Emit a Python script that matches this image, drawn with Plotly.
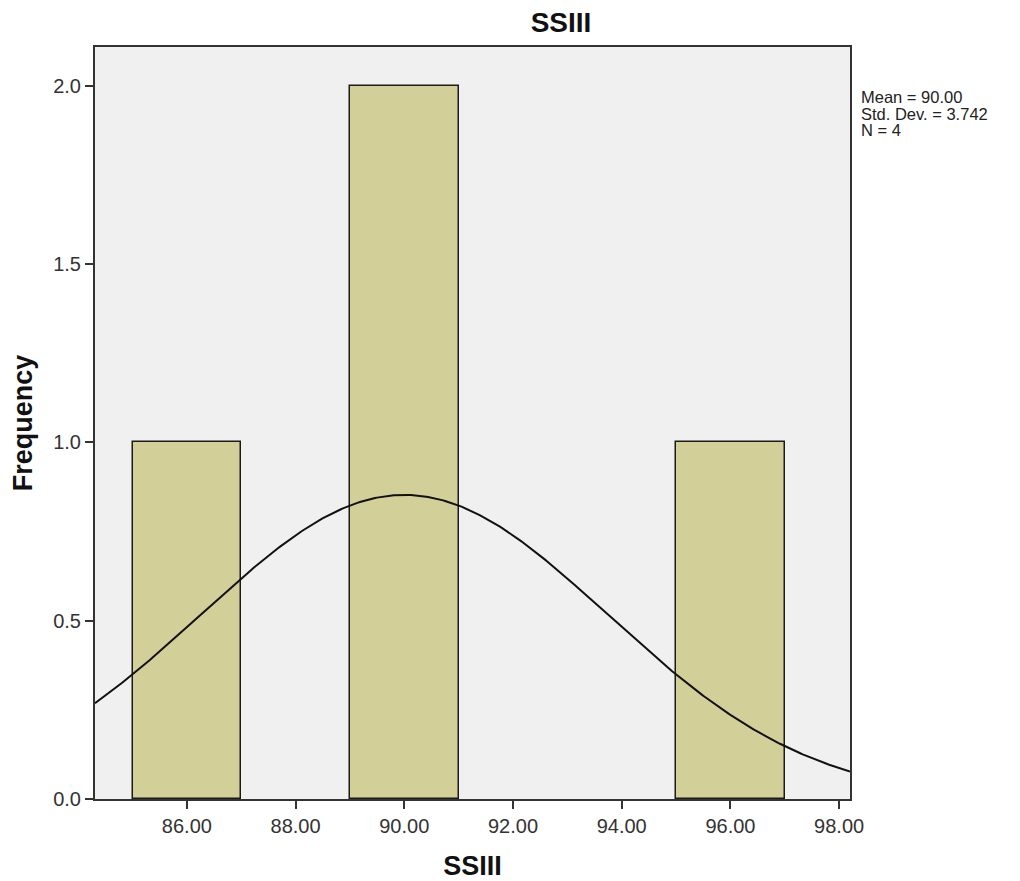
import numpy as np
import plotly.graph_objects as go

# Data
bin_centers = [86.0, 90.0, 96.0]
bin_counts = [1, 2, 1]
bin_width = 2.0
mean_val = 90.00
std_dev = 3.742
n_obs = 4
x_ticks = [86, 88, 90, 92, 94, 96, 98]
y_ticks = [0.0, 0.5, 1.0, 1.5, 2.0]

x_range = [84.31, 98.2]
y_range = [0, 2.109]

# normal curve fitted by mean & std dev, scaled to frequencies
xc = np.linspace(x_range[0], x_range[1], 400)
yc = n_obs * bin_width * np.exp(-0.5 * ((xc - mean_val) / std_dev) ** 2) / (std_dev * np.sqrt(2 * np.pi))

fig = go.Figure()
fig.add_trace(go.Bar(
    x=bin_centers, y=bin_counts, width=[bin_width] * len(bin_centers),
    marker=dict(color="#D3CF99", line=dict(color="#1a1a1a", width=1.5)),
    hoverinfo="skip", showlegend=False,
))
fig.add_trace(go.Scatter(
    x=xc, y=yc, mode="lines", line=dict(color="#111111", width=2),
    hoverinfo="skip", showlegend=False,
))

font_family = "Liberation Sans, Arial, sans-serif"
ML, MR, MT, MB = 87, 178, 39, 90
fig.update_layout(
    width=1020, height=881,
    margin=dict(l=ML, r=MR, t=MT, b=MB),
    paper_bgcolor="white", plot_bgcolor="#F0F0F0",
    font=dict(family=font_family, color="#222222"),
    title=dict(text="<b>SSIII</b>", x=(561 - 8) / 1020, xanchor="center",
               y=1 - 14 / 881, yanchor="middle", font=dict(size=28, color="#111111")),
    bargap=0,
    xaxis=dict(
        range=x_range, tickmode="array", tickvals=x_ticks,
        ticktext=[f"{v:.2f}" for v in x_ticks],
        ticks="outside", ticklen=8, tickwidth=2, tickcolor="#333333",
        showline=True, linecolor="#333333", linewidth=2, mirror=True,
        showgrid=False, zeroline=False, automargin=False,
        tickfont=dict(size=20, color="#333333"),
        title=dict(text="<b>SSIII</b>", font=dict(size=27, color="#111111"), standoff=20),
    ),
    yaxis=dict(
        range=y_range, tickmode="array", tickvals=y_ticks,
        ticktext=[f"{v:.1f}" for v in y_ticks],
        ticks="outside", ticklen=8, tickwidth=2, tickcolor="#333333",
        showline=True, linecolor="#333333", linewidth=2, mirror=True,
        showgrid=False, zeroline=False, automargin=False,
        tickfont=dict(size=20, color="#333333"),
        title=dict(text="<b>Frequency</b>", font=dict(size=27, color="#111111"), standoff=14),
    ),
)

stats_lines = [f"Mean = {mean_val:.2f}", f"Std. Dev. = {std_dev:.3f}", f"N = {n_obs}"]
plot_h = 881 - MT - MB
for i, line in enumerate(stats_lines):
    fig.add_annotation(
        text=line, xref="paper", yref="paper",
        x=1.0, xanchor="left", xshift=9,
        y=1 - (97 + i * 16.7 - 8 - MT) / plot_h, yanchor="middle",
        showarrow=False, font=dict(size=16.5, color="#222222"),
    )

fig.write_html("out.html")
